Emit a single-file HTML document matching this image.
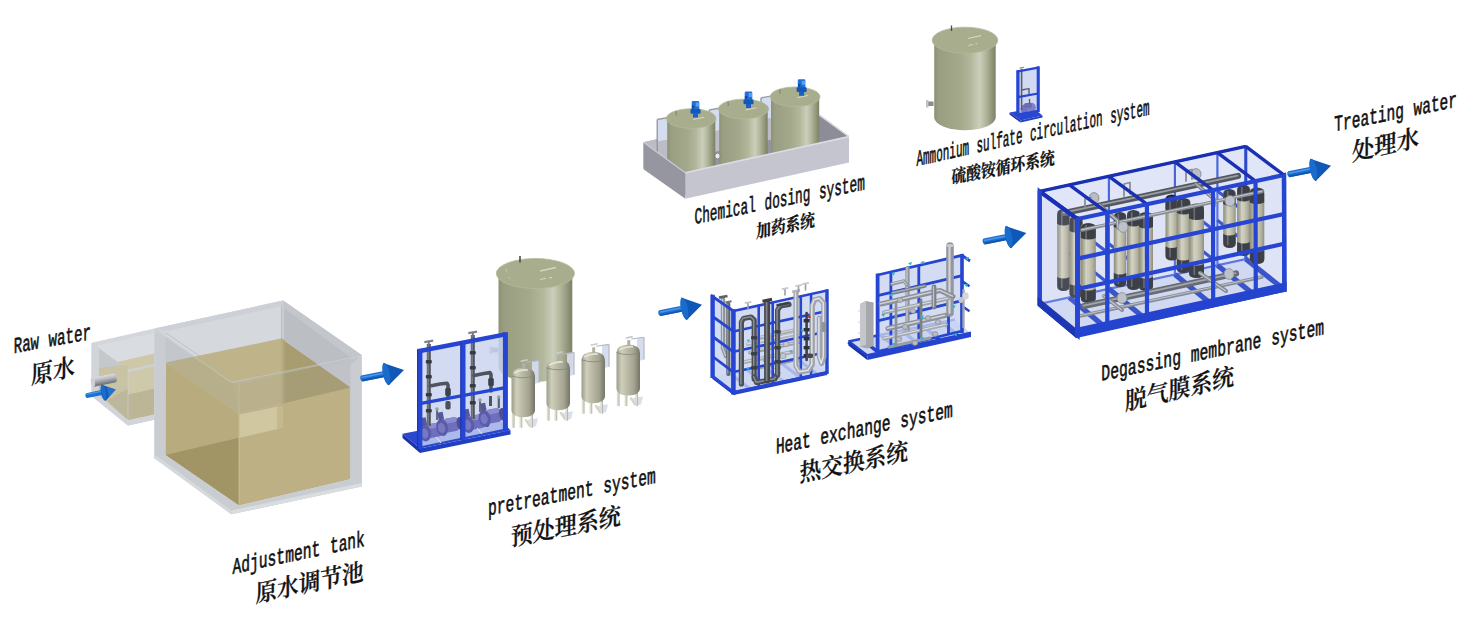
<!DOCTYPE html>
<html lang="zh"><head><meta charset="utf-8"><title>Process flow</title>
<style>
html,body{margin:0;padding:0;background:#fff;}
body{width:1466px;height:620px;overflow:hidden;font-family:"Liberation Serif","Noto Serif CJK SC",serif;}
svg{display:block;}
</style></head><body>
<svg width="1466" height="620" viewBox="0 0 1466 620">
<defs>
<linearGradient id="gp" x1="0" y1="0" x2="0" y2="1"><stop offset="0" stop-color="#dcdce0"/><stop offset="0.35" stop-color="#bdbdc4"/><stop offset="1" stop-color="#6c6c76"/></linearGradient>
<linearGradient id="tk" x1="0" y1="0" x2="1" y2="0"><stop offset="0" stop-color="#8c9174"/><stop offset="0.07" stop-color="#999e82"/><stop offset="0.42" stop-color="#a4a98c"/><stop offset="0.6" stop-color="#b3b89c"/><stop offset="0.74" stop-color="#cbcfbb"/><stop offset="0.86" stop-color="#abb094"/><stop offset="1" stop-color="#7c8166"/></linearGradient>
<linearGradient id="vs" x1="0" y1="0" x2="1" y2="0"><stop offset="0" stop-color="#9c9c8b"/><stop offset="0.22" stop-color="#cfcfbc"/><stop offset="0.42" stop-color="#bdbda9"/><stop offset="0.75" stop-color="#a3a390"/><stop offset="1" stop-color="#757568"/></linearGradient>
<linearGradient id="mem" x1="0" y1="0" x2="1" y2="0"><stop offset="0" stop-color="#7f7e68"/><stop offset="0.28" stop-color="#b9b79e"/><stop offset="0.48" stop-color="#cdcbb3"/><stop offset="0.8" stop-color="#aba990"/><stop offset="1" stop-color="#83816b"/></linearGradient>
</defs>
<rect width="1466" height="620" fill="#ffffff"/>
<!-- adjustment tank -->
<polygon points="91.6,342.8 154.5,328.5 154.5,363.8 128.0,369.8" fill="#d3d6db"/>
<polygon points="97.0,345.8 154.5,332.8 154.5,356.0 97.0,369.5" fill="#d9dce1"/>
<polygon points="104.0,365.0 154.5,353.5 154.5,366.0 128.0,372.0 104.0,372.0" fill="#cfc8a8"/>
<polygon points="91.6,342.8 128.0,369.8 128.0,425.5 91.6,396.0" fill="#c5c8cb"/>
<polygon points="99.0,367.8 128.0,364.8 128.0,420.0 99.0,395.0" fill="#c8c3a5"/>
<polygon points="106.8,400.5 128.0,388.8 128.0,420.0" fill="#bdb89b"/>
<polygon points="128.0,369.8 154.5,363.8 154.5,419.8 128.0,425.5" fill="#cdd0d3"/>
<polygon points="128.0,372.2 154.5,366.2 154.5,388.5 128.0,394.5" fill="#cfc9ab"/>
<polygon points="128.0,394.5 154.5,388.5 154.5,414.5 128.0,420.3" fill="#bcb696"/>
<line x1="128.0" y1="370.5" x2="128.0" y2="425.0" stroke="#d6d8dc" stroke-width="1.0" stroke-linecap="butt" stroke-opacity="0.5"/>
<polygon points="91.6,396.0 128.0,425.5 154.5,419.8 154.5,414.5 128.0,420.3 99.0,395.0 99.0,348.3 91.6,342.8" fill="#d1d4d8"/>
<polygon points="154.5,328.5 283.0,300.5 283.0,429.0 154.5,458.2" fill="#d3d7dc"/>
<polygon points="283.0,300.5 361.6,355.0 361.6,486.6 283.0,429.0" fill="#bec1c6"/>
<polygon points="154.5,328.5 283.0,300.5 281.0,306.3 165.5,331.6" fill="#cdd1d7"/>
<polygon points="283.0,300.5 361.6,355.0 350.6,357.4 281.0,306.3" fill="#c3c6cb"/>
<polygon points="165.5,331.6 281.0,306.3 281.0,345.0 165.5,368.0" fill="#d5d9de"/>
<polygon points="281.0,306.3 350.6,357.4 350.6,392.0 281.0,345.0" fill="#bbbec3"/>
<line x1="283.0" y1="301.0" x2="283.0" y2="340.0" stroke="#c9ccd1" stroke-width="2.2" stroke-linecap="butt"/>
<polygon points="154.5,328.5 231.5,381.8 231.3,514.2 154.5,458.2" fill="#c6c9cd" fill-opacity="0.55"/>
<polygon points="231.5,381.8 361.6,355.0 361.6,486.6 231.3,514.2" fill="#cdd0d4" fill-opacity="0.55"/>
<polygon points="166.0,362.5 280.7,338.6 350.4,387.6 239.2,413.7" fill="#bfb389"/>
<polygon points="280.7,338.6 350.4,387.6 283.0,416.0 283.0,339.0" fill="#a89d70"/>
<polygon points="281.0,338.7 285.0,340.0 285.0,418.0 281.0,419.0" fill="#b3a87c" fill-opacity="0.6"/>
<polygon points="166.0,362.5 239.2,413.7 239.0,505.5 165.5,455.0" fill="#b8ac7e"/>
<polygon points="165.5,455.0 239.0,437.7 239.0,505.5" fill="#a19465"/>
<polygon points="239.2,413.7 350.4,387.6 350.3,479.3 239.0,505.5" fill="#bcb084"/>
<polygon points="239.2,414.5 277.0,406.6 277.0,429.2 239.2,437.9" fill="#d0c6a0"/>
<polygon points="277.0,406.6 283.0,405.4 283.0,428.0 277.0,429.2" fill="#c4b98f"/>
<line x1="239.1" y1="414.0" x2="239.1" y2="505.0" stroke="#c9be96" stroke-width="1.0" stroke-linecap="butt"/>
<polygon points="154.5,328.5 231.5,381.8 239.2,413.7 166.0,362.5 165.5,362.0" fill="#8f9398" fill-opacity="0.16"/>
<polygon points="231.5,381.8 361.6,355.0 350.4,387.6 239.2,413.7" fill="#9a9ea3" fill-opacity="0.12"/>
<line x1="165.5" y1="332.6" x2="239.0" y2="383.2" stroke="#aeb1b3" stroke-width="1.0" stroke-linecap="butt" stroke-opacity="0.6"/>
<line x1="239.0" y1="383.2" x2="350.6" y2="358.4" stroke="#b4b7b9" stroke-width="1.0" stroke-linecap="butt" stroke-opacity="0.6"/>
<line x1="239.0" y1="383.0" x2="239.0" y2="413.0" stroke="#c9cccf" stroke-width="1.0" stroke-linecap="butt" stroke-opacity="0.35"/>
<polygon points="154.5,328.5 165.5,336.2 165.5,455.0 239.0,505.5 350.3,479.3 350.4,365.0 361.6,355.0 361.6,486.6 231.3,514.2 154.5,458.2" fill="#c9cdd1"/>
<polygon points="154.5,328.5 231.5,381.8 231.5,383.2 154.5,329.9" fill="#d2d5d9" fill-opacity="0.4"/>
<polygon points="231.5,381.8 361.6,355.0 361.6,356.4 231.5,383.2" fill="#d6d9dc" fill-opacity="0.4"/>
<polygon points="154.5,458.2 231.3,514.2 231.3,510.5 154.5,454.5" fill="#d6d9dc"/>
<polygon points="231.3,514.2 361.6,486.6 361.6,483.0 231.3,510.5" fill="#dadde0"/>
<g transform="rotate(-11 105 380)"><rect x="91.5" y="375.4" width="25" height="9.0" rx="2.5" fill="url(#gp)"/><ellipse cx="92.7" cy="379.9" rx="2" ry="4.5" fill="#cfcfd4"/></g>
<path d="M86.2,393.2 L103.5,389.6 L104.5,394.4 L87.2,398 A1.6,2.5 -11 0 1 86.2,393.2 Z" fill="#1c6fd0"/>
<line x1="86.5" y1="394.3" x2="103.6" y2="390.8" stroke="#4a97ea" stroke-width="1.3" stroke-linecap="butt"/>
<path d="M101.6,384.8 L115.8,389.6 L106.2,400.2 A2.6,7.8 -11 0 1 101.6,384.8 Z" fill="#1058b8"/>
<path d="M106.5,386.5 L115.8,389.6 L108.8,397.3 Z" fill="#3a86dc" fill-opacity="0.55"/>
<ellipse cx="103.6" cy="392.4" rx="2.6" ry="7.7" transform="rotate(-11 103.6 392.4)" fill="#1a6ccc"/>
<!-- arrows -->
<g>
<path d="M361.2,375.5 L386.3,370.5 L387.4,376.4 L362.4,381.4 A2,3.1 -11 0 1 361.2,375.5 Z" fill="#1c6fd0"/>
<line x1="361.6" y1="377.5" x2="386.6" y2="372.5" stroke="#4a97ea" stroke-width="1.6" stroke-linecap="butt"/>
<line x1="362.3" y1="380.6" x2="387.3" y2="375.6" stroke="#0f55b0" stroke-width="1.6" stroke-linecap="butt"/>
<path d="M383.2,362.9 L404.0,370.0 L390.0,384.0 A3.2,11.0 -11 0 1 383.2,362.9 Z" fill="#1058b8"/>
<ellipse cx="386.3" cy="373.4" rx="3.4" ry="10.7" transform="rotate(-11 386.8 373.4)" fill="#1a6ccc"/>
</g>
<g>
<path d="M659.2,310.2 L684.3,305.2 L685.4,311.1 L660.4,316.1 A2,3.1 -11 0 1 659.2,310.2 Z" fill="#1c6fd0"/>
<line x1="659.6" y1="312.2" x2="684.6" y2="307.2" stroke="#4a97ea" stroke-width="1.6" stroke-linecap="butt"/>
<line x1="660.3" y1="315.3" x2="685.3" y2="310.3" stroke="#0f55b0" stroke-width="1.6" stroke-linecap="butt"/>
<path d="M681.2,297.6 L702.0,304.7 L688.0,318.7 A3.2,11.0 -11 0 1 681.2,297.6 Z" fill="#1058b8"/>
<ellipse cx="684.3" cy="308.1" rx="3.4" ry="10.7" transform="rotate(-11 684.8 308.1)" fill="#1a6ccc"/>
</g>
<g>
<path d="M983.5,238.5 L1008.6,233.5 L1009.7,239.4 L984.7,244.4 A2,3.1 -11 0 1 983.5,238.5 Z" fill="#1c6fd0"/>
<line x1="983.9" y1="240.5" x2="1008.9" y2="235.5" stroke="#4a97ea" stroke-width="1.6" stroke-linecap="butt"/>
<line x1="984.6" y1="243.6" x2="1009.6" y2="238.6" stroke="#0f55b0" stroke-width="1.6" stroke-linecap="butt"/>
<path d="M1005.5,225.9 L1026.3,233.0 L1012.3,247.0 A3.2,11.0 -11 0 1 1005.5,225.9 Z" fill="#1058b8"/>
<ellipse cx="1008.6" cy="236.4" rx="3.4" ry="10.7" transform="rotate(-11 1009.1 236.4)" fill="#1a6ccc"/>
</g>
<g>
<path d="M1288.2,171.3 L1313.3,166.3 L1314.4,172.2 L1289.4,177.2 A2,3.1 -11 0 1 1288.2,171.3 Z" fill="#1c6fd0"/>
<line x1="1288.6" y1="173.3" x2="1313.6" y2="168.3" stroke="#4a97ea" stroke-width="1.6" stroke-linecap="butt"/>
<line x1="1289.3" y1="176.4" x2="1314.3" y2="171.4" stroke="#0f55b0" stroke-width="1.6" stroke-linecap="butt"/>
<path d="M1310.2,158.7 L1331.0,165.8 L1317.0,179.8 A3.2,11.0 -11 0 1 1310.2,158.7 Z" fill="#1058b8"/>
<ellipse cx="1313.3" cy="169.2" rx="3.4" ry="10.7" transform="rotate(-11 1313.8 169.2)" fill="#1a6ccc"/>
</g>
<!-- labels -->
<g transform="matrix(1,-0.1816,-0.000,1,13.4,353.2)" font-family='"Liberation Mono", "Noto Serif CJK SC", monospace' font-size="22.5" fill="#111" stroke="#111" stroke-width="0.6">
<text x="0.3" y="0" textLength="25.3" lengthAdjust="spacingAndGlyphs">Raw</text>
<text x="35.1" y="0" textLength="42.6" lengthAdjust="spacingAndGlyphs">water</text>
</g>
<g transform="matrix(1,-0.2055,-0.000,1,31.0,384.0)" font-family='"Liberation Serif", "Noto Serif CJK SC", serif' font-size="24.5" font-weight="600" fill="#111" stroke="#111" stroke-width="0.3">
<text x="0" y="0" textLength="43.8" lengthAdjust="spacingAndGlyphs">原水</text>
</g>
<g transform="matrix(1,-0.2119,-0.000,1,232.1,574.0)" font-family='"Liberation Mono", "Noto Serif CJK SC", monospace' font-size="22.5" fill="#111" stroke="#111" stroke-width="0.6">
<text x="0.3" y="0" textLength="87.9" lengthAdjust="spacingAndGlyphs">Adjustment</text>
<text x="97.9" y="0" textLength="34.7" lengthAdjust="spacingAndGlyphs">tank</text>
</g>
<g transform="matrix(1,-0.2083,-0.000,1,255.5,602.5)" font-family='"Liberation Serif", "Noto Serif CJK SC", serif' font-size="24.5" font-weight="600" fill="#111" stroke="#111" stroke-width="0.3">
<text x="0" y="0" textLength="108.0" lengthAdjust="spacingAndGlyphs">原水调节池</text>
</g>
<g transform="matrix(1,-0.1947,-0.000,1,487.7,515.6)" font-family='"Liberation Mono", "Noto Serif CJK SC", monospace' font-size="22.5" fill="#111" stroke="#111" stroke-width="0.6">
<text x="0.3" y="0" textLength="105.6" lengthAdjust="spacingAndGlyphs">pretreatment</text>
<text x="115.6" y="0" textLength="52.4" lengthAdjust="spacingAndGlyphs">system</text>
</g>
<g transform="matrix(1,-0.2000,-0.000,1,510.8,546.0)" font-family='"Liberation Serif", "Noto Serif CJK SC", serif' font-size="24.5" font-weight="600" fill="#111" stroke="#111" stroke-width="0.3">
<text x="0" y="0" textLength="110.0" lengthAdjust="spacingAndGlyphs">预处理系统</text>
</g>
<g transform="matrix(1,-0.2099,-0.000,1,775.6,453.9)" font-family='"Liberation Mono", "Noto Serif CJK SC", monospace' font-size="22.5" fill="#111" stroke="#111" stroke-width="0.6">
<text x="0.3" y="0" textLength="34.7" lengthAdjust="spacingAndGlyphs">Heat</text>
<text x="44.7" y="0" textLength="70.3" lengthAdjust="spacingAndGlyphs">exchange</text>
<text x="124.7" y="0" textLength="52.5" lengthAdjust="spacingAndGlyphs">system</text>
</g>
<g transform="matrix(1,-0.2070,-0.000,1,799.4,482.0)" font-family='"Liberation Serif", "Noto Serif CJK SC", serif' font-size="24.5" font-weight="600" fill="#111" stroke="#111" stroke-width="0.3">
<text x="0" y="0" textLength="108.7" lengthAdjust="spacingAndGlyphs">热交换系统</text>
</g>
<g transform="matrix(1,-0.2022,-0.000,1,694.2,224.0)" font-family='"Liberation Mono", "Noto Serif CJK SC", monospace' font-size="22.5" fill="#111" stroke="#111" stroke-width="0.6">
<text x="0.3" y="0" textLength="61.4" lengthAdjust="spacingAndGlyphs">Chemical</text>
<text x="70.3" y="0" textLength="45.9" lengthAdjust="spacingAndGlyphs">dosing</text>
<text x="124.7" y="0" textLength="45.9" lengthAdjust="spacingAndGlyphs">system</text>
</g>
<g transform="matrix(1,-0.2051,-0.000,1,756.3,238.0)" font-family='"Liberation Serif", "Noto Serif CJK SC", serif' font-size="18" font-weight="700" fill="#111" stroke="#111" stroke-width="0.3">
<text x="0" y="0" textLength="58.5" lengthAdjust="spacingAndGlyphs">加药系统</text>
</g>
<g transform="matrix(1,-0.2206,-0.000,1,916.1,166.1)" font-family='"Liberation Mono", "Noto Serif CJK SC", monospace' font-size="22.5" fill="#111" stroke="#111" stroke-width="0.6">
<text x="0.3" y="0" textLength="52.7" lengthAdjust="spacingAndGlyphs">Ammonium</text>
<text x="60.4" y="0" textLength="46.0" lengthAdjust="spacingAndGlyphs">sulfate</text>
<text x="113.9" y="0" textLength="72.7" lengthAdjust="spacingAndGlyphs">circulation</text>
<text x="194.1" y="0" textLength="39.3" lengthAdjust="spacingAndGlyphs">system</text>
</g>
<g transform="matrix(1,-0.1890,-0.000,1,951.6,183.5)" font-family='"Liberation Serif", "Noto Serif CJK SC", serif' font-size="18" font-weight="700" fill="#111" stroke="#111" stroke-width="0.3">
<text x="0" y="0" textLength="103.2" lengthAdjust="spacingAndGlyphs">硫酸铵循环系统</text>
</g>
<g transform="matrix(1,-0.2098,-0.000,1,1101.0,380.9)" font-family='"Liberation Mono", "Noto Serif CJK SC", monospace' font-size="22.5" fill="#111" stroke="#111" stroke-width="0.6">
<text x="0.3" y="0" textLength="79.7" lengthAdjust="spacingAndGlyphs">Degassing</text>
<text x="89.7" y="0" textLength="70.7" lengthAdjust="spacingAndGlyphs">membrane</text>
<text x="170.2" y="0" textLength="52.8" lengthAdjust="spacingAndGlyphs">system</text>
</g>
<g transform="matrix(1,-0.2385,-0.000,1,1125.0,410.5)" font-family='"Liberation Serif", "Noto Serif CJK SC", serif' font-size="24.5" font-weight="600" fill="#111" stroke="#111" stroke-width="0.3">
<text x="0" y="0" textLength="109.0" lengthAdjust="spacingAndGlyphs">脱气膜系统</text>
</g>
<g transform="matrix(1,-0.2018,-0.000,1,1334.0,131.5)" font-family='"Liberation Mono", "Noto Serif CJK SC", monospace' font-size="22.5" fill="#111" stroke="#111" stroke-width="0.6">
<text x="0.3" y="0" textLength="69.7" lengthAdjust="spacingAndGlyphs">Treating</text>
<text x="79.6" y="0" textLength="43.3" lengthAdjust="spacingAndGlyphs">water</text>
</g>
<g transform="matrix(1,-0.2254,-0.000,1,1352.0,161.0)" font-family='"Liberation Serif", "Noto Serif CJK SC", serif' font-size="24.5" font-weight="600" fill="#111" stroke="#111" stroke-width="0.3">
<text x="0" y="0" textLength="67.0" lengthAdjust="spacingAndGlyphs">处理水</text>
</g>
<!-- pretreatment -->
<path d="M498.5,273.5 L498.5,367.0 A36.9,15.0 0 0 0 572.3,367.0 L572.3,273.5 Z" fill="url(#tk)"/>
<ellipse cx="535.4" cy="273.5" rx="39.1" ry="15.0" fill="#a8ad8e" stroke="#b4b99b" stroke-width="0.8"/>
<line x1="540.0" y1="271.0" x2="556.0" y2="267.5" stroke="#d3d7c2" stroke-width="1.3" stroke-linecap="butt"/>
<line x1="540.0" y1="279.5" x2="546.0" y2="278.2" stroke="#d3d7c2" stroke-width="1.1" stroke-linecap="butt"/>
<line x1="549.0" y1="278.0" x2="552.0" y2="277.4" stroke="#d3d7c2" stroke-width="1.1" stroke-linecap="butt"/>
<line x1="506.0" y1="268.0" x2="506.5" y2="272.0" stroke="#c3c7b0" stroke-width="0.8" stroke-linecap="butt"/>
<line x1="508.0" y1="277.0" x2="511.0" y2="279.0" stroke="#c3c7b0" stroke-width="0.8" stroke-linecap="butt"/>
<line x1="520.0" y1="256.0" x2="520.0" y2="262.5" stroke="#4a4a4a" stroke-width="1.6" stroke-linecap="butt"/>
<rect x="491" y="347.5" width="7" height="5" fill="#8a8d92"/><rect x="489.5" y="346" width="2.5" height="8" fill="#b5b8bd"/>
<polygon points="402.5,433.8 496.0,415.5 510.5,430.2 420.0,448.5" fill="#2a48cf"/>
<polygon points="402.5,433.8 420.0,448.5 420.0,453.0 402.5,438.0" fill="#1b33a8"/>
<polygon points="420.0,448.5 510.5,430.2 510.5,434.5 420.0,453.0" fill="#2040c4"/>
<polygon points="419.8,351.0 505.4,334.4 505.4,428.5 419.8,446.5" fill="#c9d3f0" fill-opacity="0.82"/>
<g transform="translate(428.0,432.0) rotate(-11)">
<rect x="-2" y="-7.5" width="17" height="14" rx="5" fill="#6e6fbc"/>
<rect x="0" y="-7.5" width="13" height="5" rx="2.5" fill="#8a8bd0"/>
<ellipse cx="-3" cy="0.5" rx="6" ry="8.4" fill="#5a5baa"/>
<ellipse cx="-3.6" cy="0.8" rx="3.6" ry="5.2" fill="#7778c2"/>
<ellipse cx="15.5" cy="0" rx="3.4" ry="6.6" fill="#4c4d98"/>
<rect x="-5" y="-15" width="5.5" height="8" fill="#55589a"/>
</g>
<g transform="translate(445.0,426.5) rotate(-11)">
<rect x="-2" y="-7.5" width="17" height="14" rx="5" fill="#6e6fbc"/>
<rect x="0" y="-7.5" width="13" height="5" rx="2.5" fill="#8a8bd0"/>
<ellipse cx="-3" cy="0.5" rx="6" ry="8.4" fill="#5a5baa"/>
<ellipse cx="-3.6" cy="0.8" rx="3.6" ry="5.2" fill="#7778c2"/>
<ellipse cx="15.5" cy="0" rx="3.4" ry="6.6" fill="#4c4d98"/>
<rect x="-5" y="-15" width="5.5" height="8" fill="#55589a"/>
</g>
<g transform="translate(471.0,423.5) rotate(-11)">
<rect x="-2" y="-7.5" width="17" height="14" rx="5" fill="#6e6fbc"/>
<rect x="0" y="-7.5" width="13" height="5" rx="2.5" fill="#8a8bd0"/>
<ellipse cx="-3" cy="0.5" rx="6" ry="8.4" fill="#5a5baa"/>
<ellipse cx="-3.6" cy="0.8" rx="3.6" ry="5.2" fill="#7778c2"/>
<ellipse cx="15.5" cy="0" rx="3.4" ry="6.6" fill="#4c4d98"/>
<rect x="-5" y="-15" width="5.5" height="8" fill="#55589a"/>
</g>
<g transform="translate(487.5,417.5) rotate(-11)">
<rect x="-2" y="-7.5" width="17" height="14" rx="5" fill="#6e6fbc"/>
<rect x="0" y="-7.5" width="13" height="5" rx="2.5" fill="#8a8bd0"/>
<ellipse cx="-3" cy="0.5" rx="6" ry="8.4" fill="#5a5baa"/>
<ellipse cx="-3.6" cy="0.8" rx="3.6" ry="5.2" fill="#7778c2"/>
<ellipse cx="15.5" cy="0" rx="3.4" ry="6.6" fill="#4c4d98"/>
<rect x="-5" y="-15" width="5.5" height="8" fill="#55589a"/>
</g>
<line x1="436.0" y1="437.0" x2="441.0" y2="443.0" stroke="#e8e8f4" stroke-width="1" stroke-linecap="butt"/>
<line x1="477.0" y1="428.0" x2="482.0" y2="434.0" stroke="#e8e8f4" stroke-width="1" stroke-linecap="butt"/>
<line x1="428.8" y1="344.0" x2="428.8" y2="426.0" stroke="#4f545c" stroke-width="4.0" stroke-linecap="butt"/>
<line x1="428.1" y1="344.0" x2="428.1" y2="426.0" stroke="#888d96" stroke-width="1.1" stroke-linecap="butt"/>
<line x1="424.3" y1="342.2" x2="433.2" y2="340.6" stroke="#80858d" stroke-width="2.2" stroke-linecap="butt"/>
<line x1="428.8" y1="341.5" x2="428.8" y2="346.0" stroke="#70757d" stroke-width="1.8" stroke-linecap="butt"/>
<line x1="472.8" y1="335.0" x2="472.8" y2="419.0" stroke="#4f545c" stroke-width="4.0" stroke-linecap="butt"/>
<line x1="472.1" y1="335.0" x2="472.1" y2="419.0" stroke="#888d96" stroke-width="1.1" stroke-linecap="butt"/>
<line x1="468.3" y1="333.2" x2="477.2" y2="331.6" stroke="#80858d" stroke-width="2.2" stroke-linecap="butt"/>
<line x1="472.8" y1="332.5" x2="472.8" y2="337.0" stroke="#70757d" stroke-width="1.8" stroke-linecap="butt"/>
<rect x="425.8" y="360" width="6" height="3.4" rx="1" fill="#363a42"/>
<rect x="425.8" y="375" width="6" height="3.4" rx="1" fill="#363a42"/>
<rect x="425.8" y="393" width="6" height="3.4" rx="1" fill="#363a42"/>
<rect x="425.8" y="409" width="6" height="3.4" rx="1" fill="#363a42"/>
<rect x="469.8" y="351" width="6" height="3.4" rx="1" fill="#363a42"/>
<rect x="469.8" y="366" width="6" height="3.4" rx="1" fill="#363a42"/>
<rect x="469.8" y="384" width="6" height="3.4" rx="1" fill="#363a42"/>
<rect x="469.8" y="401" width="6" height="3.4" rx="1" fill="#363a42"/>
<polyline points="430.0,386.0 440.0,384.0 447.0,383.2 448.0,385.0 448.0,396.0" fill="none" stroke="#4f545c" stroke-width="3.6" stroke-linecap="round" stroke-linejoin="round"/>
<rect x="445.2" y="388" width="5.6" height="8" rx="1.5" fill="#3d4149"/>
<rect x="445.4" y="401" width="5.2" height="8.5" rx="1.8" fill="#4a4e56"/>
<polyline points="474.0,375.5 484.0,373.5 490.0,372.6 491.0,374.5 491.0,391.0" fill="none" stroke="#4f545c" stroke-width="3.6" stroke-linecap="round" stroke-linejoin="round"/>
<rect x="488.2" y="378" width="5.6" height="8" rx="1.5" fill="#3d4149"/>
<line x1="437.0" y1="410.0" x2="437.0" y2="420.0" stroke="#5a5f68" stroke-width="1.8" stroke-linecap="butt"/>
<circle cx="437" cy="409" r="1.8" fill="#9a9ea6"/>
<line x1="480.0" y1="401.0" x2="480.0" y2="412.0" stroke="#5a5f68" stroke-width="1.8" stroke-linecap="butt"/>
<circle cx="480" cy="400" r="1.8" fill="#9a9ea6"/>
<line x1="498.8" y1="398.0" x2="498.8" y2="408.0" stroke="#5a5f68" stroke-width="2.2" stroke-linecap="butt"/>
<circle cx="498.8" cy="397" r="1.8" fill="#9a9ea6"/>
<line x1="490.5" y1="396.0" x2="490.5" y2="406.0" stroke="#4f545c" stroke-width="3.0" stroke-linecap="butt"/>
<line x1="419.8" y1="351.0" x2="505.4" y2="334.4" stroke="#2545d2" stroke-width="4.4" stroke-linecap="butt"/>
<line x1="419.8" y1="403.6" x2="505.4" y2="387.7" stroke="#2545d2" stroke-width="3.4" stroke-linecap="butt"/>
<line x1="419.8" y1="348.8" x2="419.8" y2="449.0" stroke="#2545d2" stroke-width="5.2" stroke-linecap="butt"/>
<line x1="505.4" y1="332.2" x2="505.4" y2="431.5" stroke="#2545d2" stroke-width="5.0" stroke-linecap="butt"/>
<line x1="463.0" y1="341.0" x2="463.0" y2="440.0" stroke="#2545d2" stroke-width="5.0" stroke-linecap="butt"/>
<line x1="417.6" y1="349.5" x2="417.6" y2="449.0" stroke="#1a33b0" stroke-width="1.0" stroke-linecap="butt"/>
<line x1="460.8" y1="342.0" x2="460.8" y2="440.0" stroke="#1a33b0" stroke-width="1.0" stroke-linecap="butt"/>
<polygon points="532.0,361.8 539.0,360.4 539.0,382.8 532.0,384.8" fill="#d3dbee" fill-opacity="0.95"/>
<line x1="539.0" y1="360.4" x2="539.0" y2="382.8" stroke="#b4b7bd" stroke-width="1.2" stroke-linecap="butt"/>
<line x1="526.2" y1="362.2" x2="539.0" y2="360.4" stroke="#b4b7bd" stroke-width="1.1" stroke-linecap="butt"/>
<polygon points="525.2,420.3 538.0,418.3 536.0,426.3 529.2,427.3" fill="#d6dcec" fill-opacity="0.9"/>
<line x1="513.0" y1="408.3" x2="513.0" y2="427.8" stroke="#deded0" stroke-width="2.4" stroke-linecap="butt"/>
<line x1="514.1" y1="408.3" x2="514.1" y2="427.8" stroke="#a9a99b" stroke-width="0.8" stroke-linecap="butt"/>
<line x1="520.7" y1="408.3" x2="520.7" y2="427.8" stroke="#deded0" stroke-width="2.4" stroke-linecap="butt"/>
<line x1="521.8" y1="408.3" x2="521.8" y2="427.8" stroke="#a9a99b" stroke-width="0.8" stroke-linecap="butt"/>
<line x1="531.5" y1="408.3" x2="531.5" y2="427.8" stroke="#deded0" stroke-width="2.4" stroke-linecap="butt"/>
<line x1="532.6" y1="408.3" x2="532.6" y2="427.8" stroke="#a9a99b" stroke-width="0.8" stroke-linecap="butt"/>
<line x1="525.2" y1="419.3" x2="530.2" y2="426.3" stroke="#d4d4c6" stroke-width="2.0" stroke-linecap="butt"/>
<path d="M511.5,375.8 Q511.5,368.3 523.2,367.8 Q535.0,368.3 535.0,375.8 L535.0,410.3 Q535.0,416.8 523.2,417.3 Q511.5,416.8 511.5,410.3 Z" fill="url(#vs)"/>
<path d="M511.5,375.8 Q523.2,379.8 535.0,375.8" fill="none" stroke="#85857a" stroke-width="0.8"/>
<path d="M514.5,372.8 Q521.2,369.3 527.2,370.0" fill="none" stroke="#e6e6d8" stroke-width="1.6" stroke-linecap="round"/>
<line x1="523.7" y1="363.3" x2="523.7" y2="368.8" stroke="#aeb1a6" stroke-width="3" stroke-linecap="butt"/>
<line x1="520.7" y1="361.3" x2="527.7" y2="359.8" stroke="#c9ccd0" stroke-width="1.6" stroke-linecap="butt"/>
<polygon points="567.0,353.8 574.0,352.4 574.0,374.8 567.0,376.8" fill="#d3dbee" fill-opacity="0.95"/>
<line x1="574.0" y1="352.4" x2="574.0" y2="374.8" stroke="#b4b7bd" stroke-width="1.2" stroke-linecap="butt"/>
<line x1="561.2" y1="354.2" x2="574.0" y2="352.4" stroke="#b4b7bd" stroke-width="1.1" stroke-linecap="butt"/>
<polygon points="560.2,413.2 573.0,411.2 571.0,419.2 564.2,420.2" fill="#d6dcec" fill-opacity="0.9"/>
<line x1="548.0" y1="401.2" x2="548.0" y2="420.7" stroke="#deded0" stroke-width="2.4" stroke-linecap="butt"/>
<line x1="549.1" y1="401.2" x2="549.1" y2="420.7" stroke="#a9a99b" stroke-width="0.8" stroke-linecap="butt"/>
<line x1="555.7" y1="401.2" x2="555.7" y2="420.7" stroke="#deded0" stroke-width="2.4" stroke-linecap="butt"/>
<line x1="556.8" y1="401.2" x2="556.8" y2="420.7" stroke="#a9a99b" stroke-width="0.8" stroke-linecap="butt"/>
<line x1="566.5" y1="401.2" x2="566.5" y2="420.7" stroke="#deded0" stroke-width="2.4" stroke-linecap="butt"/>
<line x1="567.6" y1="401.2" x2="567.6" y2="420.7" stroke="#a9a99b" stroke-width="0.8" stroke-linecap="butt"/>
<line x1="560.2" y1="412.2" x2="565.2" y2="419.2" stroke="#d4d4c6" stroke-width="2.0" stroke-linecap="butt"/>
<path d="M546.5,367.8 Q546.5,360.3 558.2,359.8 Q570.0,360.3 570.0,367.8 L570.0,403.2 Q570.0,409.7 558.2,410.2 Q546.5,409.7 546.5,403.2 Z" fill="url(#vs)"/>
<path d="M546.5,367.8 Q558.2,371.8 570.0,367.8" fill="none" stroke="#85857a" stroke-width="0.8"/>
<path d="M549.5,364.8 Q556.2,361.3 562.2,362.0" fill="none" stroke="#e6e6d8" stroke-width="1.6" stroke-linecap="round"/>
<line x1="558.7" y1="355.3" x2="558.7" y2="360.8" stroke="#aeb1a6" stroke-width="3" stroke-linecap="butt"/>
<line x1="555.7" y1="353.3" x2="562.7" y2="351.8" stroke="#c9ccd0" stroke-width="1.6" stroke-linecap="butt"/>
<polygon points="602.0,345.8 609.0,344.4 609.0,366.8 602.0,368.8" fill="#d3dbee" fill-opacity="0.95"/>
<line x1="609.0" y1="344.4" x2="609.0" y2="366.8" stroke="#b4b7bd" stroke-width="1.2" stroke-linecap="butt"/>
<line x1="596.2" y1="346.2" x2="609.0" y2="344.4" stroke="#b4b7bd" stroke-width="1.1" stroke-linecap="butt"/>
<polygon points="595.2,406.2 608.0,404.2 606.0,412.2 599.2,413.2" fill="#d6dcec" fill-opacity="0.9"/>
<line x1="583.0" y1="394.2" x2="583.0" y2="413.7" stroke="#deded0" stroke-width="2.4" stroke-linecap="butt"/>
<line x1="584.1" y1="394.2" x2="584.1" y2="413.7" stroke="#a9a99b" stroke-width="0.8" stroke-linecap="butt"/>
<line x1="590.7" y1="394.2" x2="590.7" y2="413.7" stroke="#deded0" stroke-width="2.4" stroke-linecap="butt"/>
<line x1="591.8" y1="394.2" x2="591.8" y2="413.7" stroke="#a9a99b" stroke-width="0.8" stroke-linecap="butt"/>
<line x1="601.5" y1="394.2" x2="601.5" y2="413.7" stroke="#deded0" stroke-width="2.4" stroke-linecap="butt"/>
<line x1="602.6" y1="394.2" x2="602.6" y2="413.7" stroke="#a9a99b" stroke-width="0.8" stroke-linecap="butt"/>
<line x1="595.2" y1="405.2" x2="600.2" y2="412.2" stroke="#d4d4c6" stroke-width="2.0" stroke-linecap="butt"/>
<path d="M581.5,359.8 Q581.5,352.3 593.2,351.8 Q605.0,352.3 605.0,359.8 L605.0,396.2 Q605.0,402.7 593.2,403.2 Q581.5,402.7 581.5,396.2 Z" fill="url(#vs)"/>
<path d="M581.5,359.8 Q593.2,363.8 605.0,359.8" fill="none" stroke="#85857a" stroke-width="0.8"/>
<path d="M584.5,356.8 Q591.2,353.3 597.2,354.0" fill="none" stroke="#e6e6d8" stroke-width="1.6" stroke-linecap="round"/>
<line x1="593.7" y1="347.3" x2="593.7" y2="352.8" stroke="#aeb1a6" stroke-width="3" stroke-linecap="butt"/>
<line x1="590.7" y1="345.3" x2="597.7" y2="343.8" stroke="#c9ccd0" stroke-width="1.6" stroke-linecap="butt"/>
<polygon points="637.0,338.6 644.0,337.2 644.0,359.6 637.0,361.6" fill="#d3dbee" fill-opacity="0.95"/>
<line x1="644.0" y1="337.2" x2="644.0" y2="359.6" stroke="#b4b7bd" stroke-width="1.2" stroke-linecap="butt"/>
<line x1="631.3" y1="339.0" x2="644.0" y2="337.2" stroke="#b4b7bd" stroke-width="1.1" stroke-linecap="butt"/>
<polygon points="630.3,398.6 643.0,396.6 641.0,404.6 634.3,405.6" fill="#d6dcec" fill-opacity="0.9"/>
<line x1="618.0" y1="386.6" x2="618.0" y2="406.1" stroke="#deded0" stroke-width="2.4" stroke-linecap="butt"/>
<line x1="619.1" y1="386.6" x2="619.1" y2="406.1" stroke="#a9a99b" stroke-width="0.8" stroke-linecap="butt"/>
<line x1="625.8" y1="386.6" x2="625.8" y2="406.1" stroke="#deded0" stroke-width="2.4" stroke-linecap="butt"/>
<line x1="626.9" y1="386.6" x2="626.9" y2="406.1" stroke="#a9a99b" stroke-width="0.8" stroke-linecap="butt"/>
<line x1="636.5" y1="386.6" x2="636.5" y2="406.1" stroke="#deded0" stroke-width="2.4" stroke-linecap="butt"/>
<line x1="637.6" y1="386.6" x2="637.6" y2="406.1" stroke="#a9a99b" stroke-width="0.8" stroke-linecap="butt"/>
<line x1="630.3" y1="397.6" x2="635.3" y2="404.6" stroke="#d4d4c6" stroke-width="2.0" stroke-linecap="butt"/>
<path d="M616.5,352.6 Q616.5,345.1 628.3,344.6 Q640.0,345.1 640.0,352.6 L640.0,388.6 Q640.0,395.1 628.3,395.6 Q616.5,395.1 616.5,388.6 Z" fill="url(#vs)"/>
<path d="M616.5,352.6 Q628.3,356.6 640.0,352.6" fill="none" stroke="#85857a" stroke-width="0.8"/>
<path d="M619.5,349.6 Q626.3,346.1 632.3,346.8" fill="none" stroke="#e6e6d8" stroke-width="1.6" stroke-linecap="round"/>
<line x1="628.8" y1="340.1" x2="628.8" y2="345.6" stroke="#aeb1a6" stroke-width="3" stroke-linecap="butt"/>
<line x1="625.8" y1="338.1" x2="632.8" y2="336.6" stroke="#c9ccd0" stroke-width="1.6" stroke-linecap="butt"/>
<!-- chemical dosing -->
<polygon points="643.5,142.2 807.2,106.1 849.0,136.6 685.3,172.7" fill="#aaaab4"/>
<polygon points="643.5,142.2 807.2,106.1 807.2,132.1 643.5,168.2" fill="#bcbcc6"/>
<polygon points="807.2,106.1 849.0,136.6 849.0,162.6 807.2,132.1" fill="#8d8d97"/>
<polygon points="807.2,132.1 849.0,161.0 686.0,196.0 644.5,167.0" fill="#94949e"/>
<polygon points="761.0,97.8 772.0,95.8 772.0,117.8 761.0,119.8" fill="#d4dcf0"/>
<line x1="761.0" y1="97.8" x2="761.0" y2="119.8" stroke="#8f939b" stroke-width="1.3" stroke-linecap="butt"/>
<line x1="761.0" y1="97.8" x2="772.0" y2="95.8" stroke="#9a9ea6" stroke-width="1.3" stroke-linecap="butt"/>
<line x1="761.0" y1="118.8" x2="761.0" y2="138.0" stroke="#8f939b" stroke-width="1.3" stroke-linecap="butt"/>
<path d="M771.0,96.8 L771.0,150.0 A24.1,9.8 0 0 0 819.2,150.0 L819.2,96.8 Z" fill="url(#tk)"/>
<ellipse cx="795.1" cy="96.8" rx="24.9" ry="9.8" fill="#a8ad8e" stroke="#b4b99b" stroke-width="0.8"/>
<line x1="797.1" y1="97.8" x2="808.1" y2="95.5" stroke="#d3d8c5" stroke-width="1.1" stroke-linecap="butt"/>
<line x1="780.0" y1="89.3" x2="780.0" y2="93.8" stroke="#777" stroke-width="0.9" stroke-linecap="butt"/>
<rect x="797.8" y="79.3" width="7.6" height="10.5" rx="1.4" fill="#1f6fd6"/>
<rect x="801.8" y="80.8" width="3.2" height="4" fill="#5aa0f0"/>
<rect x="796.6" y="87.3" width="10" height="4.8" rx="1" fill="#1457b8"/>
<rect x="799.1" y="91.8" width="5" height="4" fill="#1a5fc4"/>
<rect x="798.0" y="83.8" width="2.4" height="3" fill="#0f4aa6"/>
<polygon points="709.2,110.0 720.2,108.0 720.2,130.0 709.2,132.0" fill="#d4dcf0"/>
<line x1="709.2" y1="110.0" x2="709.2" y2="132.0" stroke="#8f939b" stroke-width="1.3" stroke-linecap="butt"/>
<line x1="709.2" y1="110.0" x2="720.2" y2="108.0" stroke="#9a9ea6" stroke-width="1.3" stroke-linecap="butt"/>
<line x1="709.2" y1="131.0" x2="709.2" y2="150.0" stroke="#8f939b" stroke-width="1.3" stroke-linecap="butt"/>
<path d="M719.2,109.0 L719.2,162.0 A24.2,9.8 0 0 0 767.7,162.0 L767.7,109.0 Z" fill="url(#tk)"/>
<ellipse cx="743.5" cy="109.0" rx="25.1" ry="9.8" fill="#a8ad8e" stroke="#b4b99b" stroke-width="0.8"/>
<line x1="745.5" y1="110.0" x2="756.5" y2="107.7" stroke="#d3d8c5" stroke-width="1.1" stroke-linecap="butt"/>
<line x1="728.2" y1="101.5" x2="728.2" y2="106.0" stroke="#777" stroke-width="0.9" stroke-linecap="butt"/>
<rect x="744.7" y="91.5" width="7.6" height="10.5" rx="1.4" fill="#1f6fd6"/>
<rect x="748.7" y="93.0" width="3.2" height="4" fill="#5aa0f0"/>
<rect x="743.5" y="99.5" width="10" height="4.8" rx="1" fill="#1457b8"/>
<rect x="746.0" y="104.0" width="5" height="4" fill="#1a5fc4"/>
<rect x="744.9" y="96.0" width="2.4" height="3" fill="#0f4aa6"/>
<polygon points="657.2,119.5 668.2,117.5 668.2,139.5 657.2,141.5" fill="#d4dcf0"/>
<line x1="657.2" y1="119.5" x2="657.2" y2="141.5" stroke="#8f939b" stroke-width="1.3" stroke-linecap="butt"/>
<line x1="657.2" y1="119.5" x2="668.2" y2="117.5" stroke="#9a9ea6" stroke-width="1.3" stroke-linecap="butt"/>
<line x1="657.2" y1="140.5" x2="657.2" y2="160.0" stroke="#8f939b" stroke-width="1.3" stroke-linecap="butt"/>
<path d="M667.2,118.5 L667.2,172.0 A24.0,9.8 0 0 0 715.3,172.0 L715.3,118.5 Z" fill="url(#tk)"/>
<ellipse cx="691.2" cy="118.5" rx="24.8" ry="9.8" fill="#a8ad8e" stroke="#b4b99b" stroke-width="0.8"/>
<line x1="693.2" y1="119.5" x2="704.2" y2="117.2" stroke="#d3d8c5" stroke-width="1.1" stroke-linecap="butt"/>
<line x1="676.2" y1="111.0" x2="676.2" y2="115.5" stroke="#777" stroke-width="0.9" stroke-linecap="butt"/>
<rect x="691.7" y="101.0" width="7.6" height="10.5" rx="1.4" fill="#1f6fd6"/>
<rect x="695.7" y="102.5" width="3.2" height="4" fill="#5aa0f0"/>
<rect x="690.5" y="109.0" width="10" height="4.8" rx="1" fill="#1457b8"/>
<rect x="693.0" y="113.5" width="5" height="4" fill="#1a5fc4"/>
<rect x="691.9" y="105.5" width="2.4" height="3" fill="#0f4aa6"/>
<ellipse cx="717.5" cy="156" rx="2.6" ry="3" fill="#e8e8ee" stroke="#777" stroke-width="0.8"/>
<polygon points="643.5,142.2 685.3,172.7 685.3,198.7 643.5,169.3" fill="#9696a0"/>
<polygon points="685.3,172.7 849.0,136.6 849.0,162.6 685.3,198.7" fill="#c5c5cf"/>
<line x1="643.5" y1="142.2" x2="685.3" y2="172.7" stroke="#c9c9d2" stroke-width="1.4" stroke-linecap="butt"/>
<line x1="685.3" y1="172.7" x2="849.0" y2="136.6" stroke="#dcdce4" stroke-width="1.6" stroke-linecap="butt"/>
<line x1="819.2" y1="114.9" x2="849.0" y2="136.6" stroke="#dadae2" stroke-width="1.4" stroke-linecap="butt"/>
<!-- ammonium sulfate -->
<path d="M934.2,40.2 L934.2,118.0 A30.8,13.0 0 0 0 995.7,118.0 L995.7,40.2 Z" fill="url(#tk)"/>
<ellipse cx="965.0" cy="40.2" rx="32.8" ry="13.0" fill="#a8ad8e" stroke="#b4b99b" stroke-width="0.8"/>
<line x1="968.0" y1="38.5" x2="981.0" y2="35.6" stroke="#d3d7c2" stroke-width="1.2" stroke-linecap="butt"/>
<line x1="968.5" y1="45.5" x2="973.0" y2="44.5" stroke="#d3d7c2" stroke-width="1" stroke-linecap="butt"/>
<line x1="975.5" y1="44.0" x2="977.5" y2="43.6" stroke="#d3d7c2" stroke-width="1" stroke-linecap="butt"/>
<line x1="951.5" y1="25.5" x2="951.5" y2="31.0" stroke="#4a4a4a" stroke-width="1.3" stroke-linecap="butt"/>
<rect x="927.5" y="101.5" width="6" height="4.5" fill="#8a8d92"/><rect x="926" y="100" width="2.4" height="7.5" fill="#c0c3c8"/>
<polygon points="1009.5,112.5 1034.0,108.5 1042.5,115.5 1020.5,120.5" fill="#2a48cf"/>
<polygon points="1009.5,112.5 1020.5,120.5 1020.5,122.5 1009.5,114.5" fill="#1b33a8"/>
<polygon points="1020.5,120.5 1042.5,115.5 1042.5,117.5 1020.5,122.5" fill="#2040c4"/>
<polygon points="1017.9,71.4 1038.2,67.6 1038.2,110.8 1017.9,114.4" fill="#c9d3f0" fill-opacity="0.85"/>
<ellipse cx="1024.5" cy="109" rx="4" ry="4.4" fill="#7475c4"/><ellipse cx="1031.5" cy="107.4" rx="4.4" ry="4.6" fill="#7f80cc"/><rect x="1024" y="103" width="8" height="5" rx="2" fill="#6a6bb6"/>
<line x1="1021.6" y1="69.0" x2="1021.6" y2="110.0" stroke="#5a5f68" stroke-width="1.6" stroke-linecap="butt"/>
<line x1="1019.6" y1="68.2" x2="1023.8" y2="67.4" stroke="#888" stroke-width="1.3" stroke-linecap="butt"/>
<polyline points="1021.6,90.0 1029.0,88.6 1029.0,95.0" fill="none" stroke="#5a5f68" stroke-width="1.4" stroke-linecap="round" stroke-linejoin="round"/>
<line x1="1029.5" y1="99.0" x2="1029.5" y2="104.0" stroke="#5a5f68" stroke-width="1.4" stroke-linecap="butt"/>
<line x1="1017.9" y1="97.2" x2="1038.2" y2="93.5" stroke="#2545d2" stroke-width="2.2" stroke-linecap="butt"/>
<polygon points="1017.9,71.4 1038.2,67.6 1038.2,110.8 1017.9,114.4" fill="none" stroke="#2545d2" stroke-width="2.2" stroke-linejoin="miter"/>
<line x1="1017.9" y1="70.2" x2="1017.9" y2="115.5" stroke="#2545d2" stroke-width="3.2" stroke-linecap="butt"/>
<line x1="1038.2" y1="66.4" x2="1038.2" y2="112.0" stroke="#2545d2" stroke-width="3.0" stroke-linecap="butt"/>
<!-- heat exchange skid 1 -->
<polygon points="712.6,376.5 806.0,356.5 827.0,372.5 733.4,392.5" fill="#dfe4f6" fill-opacity="0.9"/>
<line x1="729.4" y1="372.9" x2="750.2" y2="388.9" stroke="#2a48cf" stroke-width="3.2" stroke-linecap="butt"/>
<line x1="746.2" y1="369.3" x2="767.1" y2="385.3" stroke="#2a48cf" stroke-width="3.2" stroke-linecap="butt"/>
<line x1="763.0" y1="365.7" x2="783.9" y2="381.7" stroke="#2a48cf" stroke-width="3.2" stroke-linecap="butt"/>
<line x1="779.8" y1="362.1" x2="800.8" y2="378.1" stroke="#2a48cf" stroke-width="3.2" stroke-linecap="butt"/>
<line x1="796.7" y1="358.5" x2="817.6" y2="374.5" stroke="#2a48cf" stroke-width="3.2" stroke-linecap="butt"/>
<polygon points="712.6,296.5 733.4,311.0 733.4,392.5 712.6,376.5" fill="#c9d3f0" fill-opacity="0.8"/>
<polygon points="733.4,311.0 827.0,290.6 827.0,372.5 733.4,392.5" fill="#c9d3f0" fill-opacity="0.8"/>
<polyline points="723.0,299.5 723.0,348.0 726.0,356.0" fill="none" stroke="#8d9198" stroke-width="4.4" stroke-linecap="round" stroke-linejoin="round"/>
<polyline points="722.5,299.2 722.5,347.7 725.5,355.7" fill="none" stroke="#c9ccd1" stroke-width="1.2320000000000002" stroke-linecap="round" stroke-linejoin="round"/>
<line x1="719.0" y1="297.6" x2="727.5" y2="296.0" stroke="#5d6168" stroke-width="2.6" stroke-linecap="butt"/>
<polyline points="728.3,304.0 728.3,374.0" fill="none" stroke="#5d6168" stroke-width="4.0" stroke-linecap="round" stroke-linejoin="round"/>
<polyline points="727.8,303.7 727.8,373.7" fill="none" stroke="#9a9ea6" stroke-width="1.12" stroke-linecap="round" stroke-linejoin="round"/>
<line x1="725.5" y1="302.4" x2="731.5" y2="301.2" stroke="#6d7178" stroke-width="2.0" stroke-linecap="butt"/>
<polyline points="748.0,344.0 800.0,333.0" fill="none" stroke="#b4b7bd" stroke-width="4.2" stroke-linecap="round" stroke-linejoin="round"/>
<polyline points="747.5,343.7 799.5,332.7" fill="none" stroke="#e2e4e8" stroke-width="1.1760000000000002" stroke-linecap="round" stroke-linejoin="round"/>
<polyline points="750.0,352.5 800.0,342.0" fill="none" stroke="#9a9ea5" stroke-width="3.8" stroke-linecap="round" stroke-linejoin="round"/>
<polyline points="749.5,352.2 799.5,341.7" fill="none" stroke="#d0d2d7" stroke-width="1.064" stroke-linecap="round" stroke-linejoin="round"/>
<polyline points="760.0,337.5 795.0,330.0" fill="none" stroke="#a4a8af" stroke-width="3.4" stroke-linecap="round" stroke-linejoin="round"/>
<polyline points="759.5,337.2 794.5,329.7" fill="none" stroke="#dcdee2" stroke-width="0.9520000000000001" stroke-linecap="round" stroke-linejoin="round"/>
<polyline points="745.0,362.0 792.0,352.0" fill="none" stroke="#a9adb4" stroke-width="4.0" stroke-linecap="round" stroke-linejoin="round"/>
<polyline points="744.5,361.7 791.5,351.7" fill="none" stroke="#dcdee2" stroke-width="1.12" stroke-linecap="round" stroke-linejoin="round"/>
<polyline points="758.0,368.0 792.0,360.5" fill="none" stroke="#9a9ea5" stroke-width="3.4" stroke-linecap="round" stroke-linejoin="round"/>
<ellipse cx="762" cy="348" rx="3" ry="2.6" fill="#c4c7cc" stroke="#868a91" stroke-width="0.6"/>
<ellipse cx="772" cy="341" rx="3" ry="2.6" fill="#c4c7cc" stroke="#868a91" stroke-width="0.6"/>
<ellipse cx="786" cy="344" rx="3" ry="2.6" fill="#c4c7cc" stroke="#868a91" stroke-width="0.6"/>
<ellipse cx="766" cy="360" rx="3" ry="2.6" fill="#c4c7cc" stroke="#868a91" stroke-width="0.6"/>
<ellipse cx="783" cy="356" rx="3" ry="2.6" fill="#c4c7cc" stroke="#868a91" stroke-width="0.6"/>
<ellipse cx="774" cy="366" rx="3" ry="2.6" fill="#c4c7cc" stroke="#868a91" stroke-width="0.6"/>
<line x1="712.6" y1="316.5" x2="733.4" y2="331.4" stroke="#2545d2" stroke-width="2.8" stroke-linecap="butt"/>
<line x1="712.6" y1="336.5" x2="733.4" y2="351.8" stroke="#2545d2" stroke-width="2.8" stroke-linecap="butt"/>
<line x1="712.6" y1="356.5" x2="733.4" y2="372.1" stroke="#2545d2" stroke-width="2.8" stroke-linecap="butt"/>
<polygon points="712.6,296.5 733.4,311.0 733.4,392.5 712.6,376.5" fill="none" stroke="#2545d2" stroke-width="2.8" stroke-linejoin="miter"/>
<line x1="758.7" y1="305.5" x2="758.7" y2="387.1" stroke="#2545d2" stroke-width="2.6" stroke-linecap="butt"/>
<line x1="772.7" y1="302.4" x2="772.7" y2="384.1" stroke="#2545d2" stroke-width="2.6" stroke-linecap="butt"/>
<line x1="800.8" y1="296.3" x2="800.8" y2="378.1" stroke="#2545d2" stroke-width="2.6" stroke-linecap="butt"/>
<line x1="811.1" y1="294.1" x2="811.1" y2="375.9" stroke="#2545d2" stroke-width="2.6" stroke-linecap="butt"/>
<line x1="733.4" y1="331.4" x2="827.0" y2="311.1" stroke="#2545d2" stroke-width="2.6" stroke-linecap="butt"/>
<line x1="733.4" y1="351.8" x2="827.0" y2="331.6" stroke="#2545d2" stroke-width="2.6" stroke-linecap="butt"/>
<line x1="733.4" y1="372.1" x2="827.0" y2="352.0" stroke="#2545d2" stroke-width="2.6" stroke-linecap="butt"/>
<polygon points="733.4,311.0 827.0,290.6 827.0,372.5 733.4,392.5" fill="none" stroke="#2545d2" stroke-width="2.6" stroke-linejoin="miter"/>
<line x1="712.6" y1="294.8" x2="712.6" y2="378.0" stroke="#2545d2" stroke-width="4.4" stroke-linecap="butt"/>
<line x1="827.0" y1="289.4" x2="827.0" y2="374.0" stroke="#2545d2" stroke-width="3.2" stroke-linecap="butt"/>
<line x1="733.4" y1="309.2" x2="733.4" y2="394.5" stroke="#2545d2" stroke-width="4.6" stroke-linecap="butt"/>
<polyline points="741.4,384.0 741.4,322.0 743.5,318.5 751.0,317.0 754.2,320.0 754.2,379.0" fill="none" stroke="#4b4f56" stroke-width="5.2" stroke-linecap="round" stroke-linejoin="round"/>
<polyline points="740.9,383.7 740.9,321.7 743.0,318.2 750.5,316.7 753.7,319.7 753.7,378.7" fill="none" stroke="#8b8f97" stroke-width="1.4560000000000002" stroke-linecap="round" stroke-linejoin="round"/>
<polyline points="754.2,377.0 756.5,382.5 775.0,379.0 777.6,373.0" fill="none" stroke="#4b4f56" stroke-width="5.2" stroke-linecap="round" stroke-linejoin="round"/>
<polyline points="753.7,376.7 756.0,382.2 774.5,378.7 777.1,372.7" fill="none" stroke="#8b8f97" stroke-width="1.4560000000000002" stroke-linecap="round" stroke-linejoin="round"/>
<polyline points="767.1,303.0 767.1,380.5" fill="none" stroke="#44484e" stroke-width="6.0" stroke-linecap="round" stroke-linejoin="round"/>
<polyline points="766.6,302.7 766.6,380.2" fill="none" stroke="#82868e" stroke-width="1.6800000000000002" stroke-linecap="round" stroke-linejoin="round"/>
<line x1="762.5" y1="301.2" x2="772.0" y2="299.4" stroke="#3c4046" stroke-width="3.2" stroke-linecap="butt"/>
<polyline points="777.6,375.0 777.6,310.0 780.5,306.0 789.0,304.4" fill="none" stroke="#4b4f56" stroke-width="5.2" stroke-linecap="round" stroke-linejoin="round"/>
<polyline points="777.1,374.7 777.1,309.7 780.0,305.7 788.5,304.1" fill="none" stroke="#8b8f97" stroke-width="1.4560000000000002" stroke-linecap="round" stroke-linejoin="round"/>
<line x1="776.5" y1="305.5" x2="789.0" y2="303.0" stroke="#3c4046" stroke-width="2.8" stroke-linecap="butt"/>
<rect x="751" y="336" width="6.4" height="3.4" rx="1" fill="#3a3e45"/>
<rect x="774.4" y="330" width="6.4" height="3.4" rx="1" fill="#3a3e45"/>
<rect x="751" y="352" width="6.4" height="3.4" rx="1" fill="#3a3e45"/>
<rect x="774.4" y="346" width="6.4" height="3.4" rx="1" fill="#3a3e45"/>
<rect x="751" y="366" width="6.4" height="3.4" rx="1" fill="#3a3e45"/>
<rect x="774.4" y="360" width="6.4" height="3.4" rx="1" fill="#3a3e45"/>
<polyline points="796.0,293.0 796.0,366.0 799.5,372.0 808.5,370.5 812.3,364.5 812.3,306.0 814.5,300.0 819.5,298.6 823.8,303.0 823.8,357.0 821.6,363.5 819.4,357.0 819.4,318.0" fill="none" stroke="#a0a4ab" stroke-width="5.2" stroke-linecap="round" stroke-linejoin="round"/>
<polyline points="795.5,292.7 795.5,365.7 799.0,371.7 808.0,370.2 811.8,364.2 811.8,305.7 814.0,299.7 819.0,298.3 823.3,302.7 823.3,356.7 821.1,363.2 818.9,356.7 818.9,317.7" fill="none" stroke="#e2e4e8" stroke-width="1.4560000000000002" stroke-linecap="round" stroke-linejoin="round"/>
<line x1="792.2" y1="291.8" x2="800.0" y2="290.3" stroke="#b4b7bd" stroke-width="2.8" stroke-linecap="butt"/>
<polyline points="806.6,313.0 806.6,360.0" fill="none" stroke="#3c4047" stroke-width="2.6" stroke-linecap="round" stroke-linejoin="round"/>
<rect x="803.6" y="319" width="6" height="3.4" fill="#2e3238"/>
<rect x="803.6" y="328" width="6" height="3.4" fill="#2e3238"/>
<rect x="803.6" y="337" width="6" height="3.4" fill="#2e3238"/>
<rect x="803.6" y="346" width="6" height="3.4" fill="#2e3238"/>
<rect x="803.6" y="354" width="6" height="3.4" fill="#2e3238"/>
<rect x="806" y="353.5" width="7" height="4.4" rx="1.5" fill="#44484e"/>
<circle cx="809.3" cy="317" r="1.3" fill="#e02020"/>
<rect x="821.6" y="322" width="4.4" height="10" rx="1.5" fill="#90949b"/>
<line x1="748.0" y1="302.5" x2="748.0" y2="309.5" stroke="#9a9ea6" stroke-width="1.6" stroke-linecap="butt"/>
<line x1="744.8" y1="303.1" x2="751.4" y2="301.8" stroke="#c5c8ce" stroke-width="1.7" stroke-linecap="butt"/>
<line x1="785.0" y1="288.5" x2="785.0" y2="295.5" stroke="#9a9ea6" stroke-width="1.6" stroke-linecap="butt"/>
<line x1="781.8" y1="289.1" x2="788.4" y2="287.8" stroke="#c5c8ce" stroke-width="1.7" stroke-linecap="butt"/>
<line x1="798.5" y1="285.5" x2="798.5" y2="292.5" stroke="#9a9ea6" stroke-width="1.6" stroke-linecap="butt"/>
<line x1="795.3" y1="286.1" x2="801.9" y2="284.8" stroke="#c5c8ce" stroke-width="1.7" stroke-linecap="butt"/>
<line x1="805.5" y1="283.5" x2="805.5" y2="290.5" stroke="#9a9ea6" stroke-width="1.6" stroke-linecap="butt"/>
<line x1="802.3" y1="284.1" x2="808.9" y2="282.8" stroke="#c5c8ce" stroke-width="1.7" stroke-linecap="butt"/>
<path d="M746.5,340.0 l3.4,-0.8 l-1,3 Z" fill="#2fb8c8"/>
<path d="M789.0,351.0 l3.4,-0.8 l-1,3 Z" fill="#2fb8c8"/>
<path d="M800.5,330.0 l3.4,-0.8 l-1,3 Z" fill="#2fb8c8"/>
<path d="M746.0,368.0 l3.4,-0.8 l-1,3 Z" fill="#2fb8c8"/>
<polygon points="712.6,376.5 733.4,392.5 733.4,395.0 712.6,379.0" fill="#1b33a8"/>
<polygon points="733.4,392.5 827.0,372.5 827.0,375.0 733.4,395.0" fill="#2040c4"/>
<line x1="712.6" y1="376.5" x2="733.4" y2="392.5" stroke="#2545d2" stroke-width="3.2" stroke-linecap="butt"/>
<line x1="733.4" y1="392.5" x2="827.0" y2="372.5" stroke="#2545d2" stroke-width="3.2" stroke-linecap="butt"/>
<!-- heat exchange skid 2 -->
<polygon points="848.4,341.5 955.0,319.5 971.0,333.5 867.3,356.0" fill="#cfd7f3"/>
<line x1="861.2" y1="338.9" x2="879.7" y2="353.3" stroke="#2341c8" stroke-width="3.4" stroke-linecap="butt"/>
<line x1="880.4" y1="334.9" x2="898.4" y2="349.2" stroke="#2341c8" stroke-width="3.4" stroke-linecap="butt"/>
<line x1="901.7" y1="330.5" x2="919.1" y2="344.8" stroke="#2341c8" stroke-width="3.4" stroke-linecap="butt"/>
<line x1="923.0" y1="326.1" x2="939.9" y2="340.2" stroke="#2341c8" stroke-width="3.4" stroke-linecap="butt"/>
<line x1="942.2" y1="322.1" x2="958.6" y2="336.2" stroke="#2341c8" stroke-width="3.4" stroke-linecap="butt"/>
<line x1="848.4" y1="341.5" x2="955.0" y2="319.5" stroke="#2a48cf" stroke-width="2.6" stroke-linecap="butt"/>
<line x1="848.4" y1="341.8" x2="867.3" y2="356.2" stroke="#2341c8" stroke-width="3.6" stroke-linecap="butt"/>
<polygon points="848.4,342.5 867.3,357.0 867.3,360.0 848.4,345.5" fill="#1b33a8"/>
<polygon points="867.3,354.0 971.0,331.5 971.0,337.0 867.3,360.0" fill="#2444d0"/>
<polygon points="860.0,304.0 866.0,301.0 873.6,302.5 873.6,346.0 867.0,348.5 860.0,346.5" fill="#a6a8ac"/>
<polygon points="860.0,304.0 866.0,301.0 866.0,345.0 860.0,346.5" fill="#c4c6ca"/>
<line x1="858.0" y1="311.0" x2="861.0" y2="311.0" stroke="#d0d2d6" stroke-width="1" stroke-linecap="butt"/>
<line x1="858.0" y1="322.0" x2="861.0" y2="322.0" stroke="#d0d2d6" stroke-width="1" stroke-linecap="butt"/>
<line x1="858.0" y1="333.0" x2="861.0" y2="333.0" stroke="#d0d2d6" stroke-width="1" stroke-linecap="butt"/>
<polygon points="877.6,275.0 962.0,255.3 962.0,331.0 877.6,351.5" fill="#c9d3f0" fill-opacity="0.8"/>
<line x1="890.9" y1="271.9" x2="890.9" y2="348.3" stroke="#2545d2" stroke-width="2.8" stroke-linecap="butt"/>
<line x1="918.8" y1="265.4" x2="918.8" y2="341.5" stroke="#2545d2" stroke-width="2.8" stroke-linecap="butt"/>
<line x1="948.5" y1="258.5" x2="948.5" y2="334.3" stroke="#2545d2" stroke-width="2.8" stroke-linecap="butt"/>
<line x1="877.6" y1="295.7" x2="962.0" y2="275.7" stroke="#2545d2" stroke-width="2.8" stroke-linecap="butt"/>
<line x1="877.6" y1="320.9" x2="962.0" y2="300.7" stroke="#2545d2" stroke-width="2.8" stroke-linecap="butt"/>
<polygon points="877.6,275.0 962.0,255.3 962.0,331.0 877.6,351.5" fill="none" stroke="#2545d2" stroke-width="2.8" stroke-linejoin="miter"/>
<line x1="877.6" y1="273.6" x2="877.6" y2="354.0" stroke="#2545d2" stroke-width="3.8" stroke-linecap="butt"/>
<line x1="962.0" y1="254.0" x2="962.0" y2="333.0" stroke="#2545d2" stroke-width="3.4" stroke-linecap="butt"/>
<line x1="962.0" y1="255.3" x2="970.0" y2="261.0" stroke="#2545d2" stroke-width="2.8" stroke-linecap="butt"/>
<line x1="962.0" y1="281.0" x2="969.5" y2="286.3" stroke="#2545d2" stroke-width="2.4" stroke-linecap="butt"/>
<line x1="962.0" y1="306.0" x2="969.5" y2="311.3" stroke="#2545d2" stroke-width="2.4" stroke-linecap="butt"/>
<polyline points="950.0,246.0 950.0,313.0" fill="none" stroke="#93979e" stroke-width="7.6" stroke-linecap="round" stroke-linejoin="round"/>
<polyline points="949.5,245.7 949.5,312.7" fill="none" stroke="#d2d4d9" stroke-width="2.128" stroke-linecap="round" stroke-linejoin="round"/>
<ellipse cx="950" cy="245.5" rx="3.8" ry="1.6" fill="#c9ccd1"/>
<polyline points="907.5,268.0 907.5,332.0" fill="none" stroke="#8d9198" stroke-width="4.2" stroke-linecap="round" stroke-linejoin="round"/>
<polyline points="907.0,267.7 907.0,331.7" fill="none" stroke="#cfd1d6" stroke-width="1.1760000000000002" stroke-linecap="round" stroke-linejoin="round"/>
<polyline points="881.0,304.0 905.0,298.5 940.0,290.5 953.0,296.5" fill="none" stroke="#8b8f96" stroke-width="5.0" stroke-linecap="round" stroke-linejoin="round"/>
<polyline points="880.5,303.7 904.5,298.2 939.5,290.2 952.5,296.2" fill="none" stroke="#cdd0d5" stroke-width="1.4000000000000001" stroke-linecap="round" stroke-linejoin="round"/>
<polyline points="884.0,312.5 948.0,298.5" fill="none" stroke="#a0a4ab" stroke-width="4.2" stroke-linecap="round" stroke-linejoin="round"/>
<polyline points="883.5,312.2 947.5,298.2" fill="none" stroke="#dfe1e5" stroke-width="1.1760000000000002" stroke-linecap="round" stroke-linejoin="round"/>
<polyline points="893.0,293.0 925.0,286.0" fill="none" stroke="#7d8188" stroke-width="3.4" stroke-linecap="round" stroke-linejoin="round"/>
<polyline points="892.5,292.7 924.5,285.7" fill="none" stroke="#babdc3" stroke-width="0.9520000000000001" stroke-linecap="round" stroke-linejoin="round"/>
<polyline points="888.0,328.5 915.0,322.5 945.0,315.5" fill="none" stroke="#8f939a" stroke-width="5.2" stroke-linecap="round" stroke-linejoin="round"/>
<polyline points="887.5,328.2 914.5,322.2 944.5,315.2" fill="none" stroke="#d3d5da" stroke-width="1.4560000000000002" stroke-linecap="round" stroke-linejoin="round"/>
<polyline points="884.0,338.5 946.0,324.5" fill="none" stroke="#a4a8af" stroke-width="3.8" stroke-linecap="round" stroke-linejoin="round"/>
<polyline points="883.5,338.2 945.5,324.2" fill="none" stroke="#e0e2e6" stroke-width="1.064" stroke-linecap="round" stroke-linejoin="round"/>
<polyline points="889.0,347.0 930.0,338.0" fill="none" stroke="#9a9ea5" stroke-width="3.0" stroke-linecap="round" stroke-linejoin="round"/>
<polyline points="934.0,287.0 934.0,307.0" fill="none" stroke="#7d8188" stroke-width="4.8" stroke-linecap="round" stroke-linejoin="round"/>
<polyline points="933.5,286.7 933.5,306.7" fill="none" stroke="#c0c3c8" stroke-width="1.344" stroke-linecap="round" stroke-linejoin="round"/>
<polyline points="921.0,300.0 921.0,337.0" fill="none" stroke="#7d8188" stroke-width="2.8" stroke-linecap="round" stroke-linejoin="round"/>
<polyline points="896.0,304.0 896.0,345.0" fill="none" stroke="#8d9198" stroke-width="2.6" stroke-linecap="round" stroke-linejoin="round"/>
<polyline points="892.0,284.0 904.0,281.0 907.0,285.0" fill="none" stroke="#93979e" stroke-width="3.4" stroke-linecap="round" stroke-linejoin="round"/>
<polyline points="891.5,283.7 903.5,280.7 906.5,284.7" fill="none" stroke="#d5d7dc" stroke-width="0.9520000000000001" stroke-linecap="round" stroke-linejoin="round"/>
<polyline points="963.5,290.0 963.5,327.0" fill="none" stroke="#a2a6ad" stroke-width="2.4" stroke-linecap="round" stroke-linejoin="round"/>
<ellipse cx="965.5" cy="296" rx="3.2" ry="3.8" fill="#d4d6da"/><ellipse cx="961" cy="300" rx="2.6" ry="3" fill="#c4c6ca"/>
<ellipse cx="900" cy="300" rx="2.8" ry="2.4" fill="#b9bcc2" stroke="#7d8188" stroke-width="0.6"/>
<ellipse cx="913" cy="311" rx="2.8" ry="2.4" fill="#b9bcc2" stroke="#7d8188" stroke-width="0.6"/>
<ellipse cx="928" cy="318" rx="2.8" ry="2.4" fill="#b9bcc2" stroke="#7d8188" stroke-width="0.6"/>
<ellipse cx="905" cy="327" rx="2.8" ry="2.4" fill="#b9bcc2" stroke="#7d8188" stroke-width="0.6"/>
<ellipse cx="938" cy="322" rx="2.8" ry="2.4" fill="#b9bcc2" stroke="#7d8188" stroke-width="0.6"/>
<ellipse cx="899" cy="339" rx="2.8" ry="2.4" fill="#b9bcc2" stroke="#7d8188" stroke-width="0.6"/>
<ellipse cx="915" cy="343" rx="2.8" ry="2.4" fill="#b9bcc2" stroke="#7d8188" stroke-width="0.6"/>
<ellipse cx="935" cy="334" rx="2.8" ry="2.4" fill="#b9bcc2" stroke="#7d8188" stroke-width="0.6"/>
<path d="M891.0,273.0 l4,-1 l-1.2,3.4 Z" fill="#2fb8c8"/>
<path d="M908.0,263.0 l4,-1 l-1.2,3.4 Z" fill="#2fb8c8"/>
<path d="M920.5,262.0 l4,-1 l-1.2,3.4 Z" fill="#2fb8c8"/>
<path d="M889.0,294.5 l4,-1 l-1.2,3.4 Z" fill="#2fb8c8"/>
<path d="M881.0,314.5 l4,-1 l-1.2,3.4 Z" fill="#2fb8c8"/>
<path d="M920.0,316.5 l4,-1 l-1.2,3.4 Z" fill="#2fb8c8"/>
<path d="M951.5,306.0 l4,-1 l-1.2,3.4 Z" fill="#2fb8c8"/>
<path d="M892.0,343.5 l4,-1 l-1.2,3.4 Z" fill="#2fb8c8"/>
<path d="M920.0,338.0 l4,-1 l-1.2,3.4 Z" fill="#2fb8c8"/>
<path d="M953.5,334.0 l4,-1 l-1.2,3.4 Z" fill="#2fb8c8"/>
<path d="M964.0,284.5 l4,-1 l-1.2,3.4 Z" fill="#2fb8c8"/>
<path d="M965.0,258.0 l4,-1 l-1.2,3.4 Z" fill="#2fb8c8"/>
<!-- degassing membrane system -->
<polygon points="1039.7,303.9 1245.8,259.0 1284.4,289.7 1077.5,335.6" fill="#ccd5f2" fill-opacity="0.9"/>
<polygon points="1039.7,191.4 1245.8,146.4 1245.8,259.0 1039.7,303.9" fill="#dde2f6" fill-opacity="0.9"/>
<polygon points="1245.8,146.4 1284.0,175.0 1284.4,289.7 1245.8,259.0" fill="#dde2f6" fill-opacity="0.9"/>
<line x1="1108.9" y1="176.3" x2="1108.9" y2="288.8" stroke="#4a66dc" stroke-width="2.2" stroke-linecap="butt"/>
<line x1="1174.9" y1="161.9" x2="1174.9" y2="274.4" stroke="#4a66dc" stroke-width="2.2" stroke-linecap="butt"/>
<line x1="1217.4" y1="152.6" x2="1217.4" y2="265.2" stroke="#4a66dc" stroke-width="2.2" stroke-linecap="butt"/>
<polygon points="1039.7,191.4 1245.8,146.4 1245.8,259.0 1039.7,303.9" fill="none" stroke="#4a66dc" stroke-width="2.2" stroke-linejoin="miter"/>
<line x1="1245.8" y1="146.4" x2="1245.8" y2="259.0" stroke="#2b49cc" stroke-width="3" stroke-linecap="butt"/>
<line x1="1039.7" y1="303.9" x2="1077.5" y2="335.6" stroke="#1f3cc4" stroke-width="5.2" stroke-linecap="butt"/>
<line x1="1069.4" y1="297.4" x2="1107.3" y2="329.0" stroke="#1f3cc4" stroke-width="5.2" stroke-linecap="butt"/>
<line x1="1108.9" y1="288.8" x2="1147.0" y2="320.2" stroke="#1f3cc4" stroke-width="5.2" stroke-linecap="butt"/>
<line x1="1174.9" y1="274.4" x2="1213.2" y2="305.5" stroke="#1f3cc4" stroke-width="5.2" stroke-linecap="butt"/>
<line x1="1217.4" y1="265.2" x2="1255.8" y2="296.0" stroke="#1f3cc4" stroke-width="5.2" stroke-linecap="butt"/>
<line x1="1245.8" y1="259.0" x2="1284.4" y2="289.7" stroke="#1f3cc4" stroke-width="5.2" stroke-linecap="butt"/>
<line x1="1069.4" y1="223.2" x2="1107.3" y2="252.2" stroke="#2341c8" stroke-width="3.2" stroke-linecap="butt"/>
<line x1="1108.9" y1="214.5" x2="1146.9" y2="243.6" stroke="#2341c8" stroke-width="3.2" stroke-linecap="butt"/>
<line x1="1174.9" y1="200.2" x2="1213.1" y2="229.4" stroke="#2341c8" stroke-width="3.2" stroke-linecap="butt"/>
<line x1="1217.4" y1="190.9" x2="1255.6" y2="220.2" stroke="#2341c8" stroke-width="3.2" stroke-linecap="butt"/>
<line x1="1069.4" y1="252.4" x2="1107.3" y2="282.5" stroke="#2341c8" stroke-width="3.2" stroke-linecap="butt"/>
<line x1="1108.9" y1="243.8" x2="1147.0" y2="273.8" stroke="#2341c8" stroke-width="3.2" stroke-linecap="butt"/>
<line x1="1174.9" y1="229.4" x2="1213.1" y2="259.3" stroke="#2341c8" stroke-width="3.2" stroke-linecap="butt"/>
<line x1="1217.4" y1="220.2" x2="1255.7" y2="250.0" stroke="#2341c8" stroke-width="3.2" stroke-linecap="butt"/>
<rect x="1223.2" y="190.0" width="12.5" height="57.0" rx="3" fill="url(#mem)"/>
<path d="M1223.2,195.0 q0,-6 6.2,-6 q6.2,0 6.2,6 v9 q-6.2,3 -12.5,0 Z" fill="#222428"/>
<path d="M1223.2,234.0 q6.2,3 12.5,0 v9 q0,5 -6.2,5 q-6.2,0 -6.2,-5 Z" fill="#222428"/>
<rect x="1226.9" y="191.0" width="1.6" height="54.0" fill="#ffffff" fill-opacity="0.25"/>
<rect x="1237.1" y="186.0" width="13.0" height="69.0" rx="3" fill="url(#mem)"/>
<path d="M1237.1,191.0 q0,-6 6.5,-6 q6.5,0 6.5,6 v9 q-6.5,3 -13.0,0 Z" fill="#222428"/>
<path d="M1237.1,242.0 q6.5,3 13.0,0 v9 q0,5 -6.5,5 q-6.5,0 -6.5,-5 Z" fill="#222428"/>
<rect x="1241.0" y="187.0" width="1.6" height="66.0" fill="#ffffff" fill-opacity="0.25"/>
<rect x="1249.8" y="188.5" width="14.5" height="74.5" rx="3" fill="url(#mem)"/>
<path d="M1249.8,193.5 q0,-6 7.2,-6 q7.2,0 7.2,6 v9 q-7.2,3 -14.5,0 Z" fill="#222428"/>
<path d="M1249.8,250.0 q7.2,3 14.5,0 v9 q0,5 -7.2,5 q-7.2,0 -7.2,-5 Z" fill="#222428"/>
<rect x="1254.1" y="189.5" width="1.6" height="71.5" fill="#ffffff" fill-opacity="0.25"/>
<rect x="1165.5" y="195.6" width="12.5" height="63.9" rx="3" fill="url(#mem)"/>
<path d="M1165.5,200.6 q0,-6 6.2,-6 q6.2,0 6.2,6 v9 q-6.2,3 -12.5,0 Z" fill="#222428"/>
<path d="M1165.5,246.5 q6.2,3 12.5,0 v9 q0,5 -6.2,5 q-6.2,0 -6.2,-5 Z" fill="#222428"/>
<rect x="1169.2" y="196.6" width="1.6" height="60.9" fill="#ffffff" fill-opacity="0.25"/>
<rect x="1176.8" y="199.0" width="13.5" height="73.0" rx="3" fill="url(#mem)"/>
<path d="M1176.8,204.0 q0,-6 6.8,-6 q6.8,0 6.8,6 v9 q-6.8,3 -13.5,0 Z" fill="#222428"/>
<path d="M1176.8,259.0 q6.8,3 13.5,0 v9 q0,5 -6.8,5 q-6.8,0 -6.8,-5 Z" fill="#222428"/>
<rect x="1180.8" y="200.0" width="1.6" height="70.0" fill="#ffffff" fill-opacity="0.25"/>
<rect x="1189.0" y="204.5" width="15.0" height="72.5" rx="3" fill="url(#mem)"/>
<path d="M1189.0,209.5 q0,-6 7.5,-6 q7.5,0 7.5,6 v9 q-7.5,3 -15.0,0 Z" fill="#222428"/>
<path d="M1189.0,264.0 q7.5,3 15.0,0 v9 q0,5 -7.5,5 q-7.5,0 -7.5,-5 Z" fill="#222428"/>
<rect x="1193.5" y="205.5" width="1.6" height="69.5" fill="#ffffff" fill-opacity="0.25"/>
<rect x="1113.8" y="213.0" width="12.5" height="73.0" rx="3" fill="url(#mem)"/>
<path d="M1113.8,218.0 q0,-6 6.2,-6 q6.2,0 6.2,6 v9 q-6.2,3 -12.5,0 Z" fill="#222428"/>
<path d="M1113.8,273.0 q6.2,3 12.5,0 v9 q0,5 -6.2,5 q-6.2,0 -6.2,-5 Z" fill="#222428"/>
<rect x="1117.5" y="214.0" width="1.6" height="70.0" fill="#ffffff" fill-opacity="0.25"/>
<rect x="1127.0" y="211.0" width="13.0" height="78.0" rx="3" fill="url(#mem)"/>
<path d="M1127.0,216.0 q0,-6 6.5,-6 q6.5,0 6.5,6 v9 q-6.5,3 -13.0,0 Z" fill="#222428"/>
<path d="M1127.0,276.0 q6.5,3 13.0,0 v9 q0,5 -6.5,5 q-6.5,0 -6.5,-5 Z" fill="#222428"/>
<rect x="1130.9" y="212.0" width="1.6" height="75.0" fill="#ffffff" fill-opacity="0.25"/>
<rect x="1139.0" y="213.0" width="14.0" height="77.0" rx="3" fill="url(#mem)"/>
<path d="M1139.0,218.0 q0,-6 7.0,-6 q7.0,0 7.0,6 v9 q-7.0,3 -14.0,0 Z" fill="#222428"/>
<path d="M1139.0,277.0 q7.0,3 14.0,0 v9 q0,5 -7.0,5 q-7.0,0 -7.0,-5 Z" fill="#222428"/>
<rect x="1143.2" y="214.0" width="1.6" height="74.0" fill="#ffffff" fill-opacity="0.25"/>
<rect x="1057.2" y="210.0" width="12.5" height="80.0" rx="3" fill="url(#mem)"/>
<path d="M1057.2,215.0 q0,-6 6.2,-6 q6.2,0 6.2,6 v9 q-6.2,3 -12.5,0 Z" fill="#222428"/>
<path d="M1057.2,277.0 q6.2,3 12.5,0 v9 q0,5 -6.2,5 q-6.2,0 -6.2,-5 Z" fill="#222428"/>
<rect x="1061.0" y="211.0" width="1.6" height="77.0" fill="#ffffff" fill-opacity="0.25"/>
<rect x="1069.5" y="217.0" width="13.0" height="80.0" rx="3" fill="url(#mem)"/>
<path d="M1069.5,222.0 q0,-6 6.5,-6 q6.5,0 6.5,6 v9 q-6.5,3 -13.0,0 Z" fill="#222428"/>
<path d="M1069.5,284.0 q6.5,3 13.0,0 v9 q0,5 -6.5,5 q-6.5,0 -6.5,-5 Z" fill="#222428"/>
<rect x="1073.4" y="218.0" width="1.6" height="77.0" fill="#ffffff" fill-opacity="0.25"/>
<rect x="1080.8" y="224.0" width="15.0" height="78.0" rx="3" fill="url(#mem)"/>
<path d="M1080.8,229.0 q0,-6 7.5,-6 q7.5,0 7.5,6 v9 q-7.5,3 -15.0,0 Z" fill="#222428"/>
<path d="M1080.8,289.0 q7.5,3 15.0,0 v9 q0,5 -7.5,5 q-7.5,0 -7.5,-5 Z" fill="#222428"/>
<rect x="1085.3" y="225.0" width="1.6" height="75.0" fill="#ffffff" fill-opacity="0.25"/>
<polyline points="1064.0,213.0 1140.0,197.0 1238.0,176.0" fill="none" stroke="#53575e" stroke-width="6.2" stroke-linecap="round" stroke-linejoin="round"/>
<polyline points="1063.5,212.7 1139.5,196.7 1237.5,175.7" fill="none" stroke="#9a9da3" stroke-width="1.7360000000000002" stroke-linecap="round" stroke-linejoin="round"/>
<polyline points="1082.0,230.0 1150.0,215.5 1262.0,191.5" fill="none" stroke="#7a7e85" stroke-width="3.6" stroke-linecap="round" stroke-linejoin="round"/>
<polyline points="1081.5,229.7 1149.5,215.2 1261.5,191.2" fill="none" stroke="#c0c3c8" stroke-width="1.0080000000000002" stroke-linecap="round" stroke-linejoin="round"/>
<polyline points="1084.0,306.0 1160.0,290.0 1236.0,273.5" fill="none" stroke="#53575e" stroke-width="6.2" stroke-linecap="round" stroke-linejoin="round"/>
<polyline points="1083.5,305.7 1159.5,289.7 1235.5,273.2" fill="none" stroke="#9a9da3" stroke-width="1.7360000000000002" stroke-linecap="round" stroke-linejoin="round"/>
<polyline points="1080.0,316.0 1150.0,301.0 1262.0,277.0" fill="none" stroke="#7a7e85" stroke-width="3.4" stroke-linecap="round" stroke-linejoin="round"/>
<polyline points="1079.5,315.7 1149.5,300.7 1261.5,276.7" fill="none" stroke="#c0c3c8" stroke-width="0.9520000000000001" stroke-linecap="round" stroke-linejoin="round"/>
<polyline points="1100.0,205.0 1118.0,221.0 1118.0,228.0" fill="none" stroke="#7a7e85" stroke-width="3.6" stroke-linecap="round" stroke-linejoin="round"/>
<polyline points="1099.5,204.7 1117.5,220.7 1117.5,227.7" fill="none" stroke="#c0c3c8" stroke-width="1.0080000000000002" stroke-linecap="round" stroke-linejoin="round"/>
<polyline points="1196.0,184.0 1214.0,199.0 1214.0,206.0" fill="none" stroke="#7a7e85" stroke-width="3.6" stroke-linecap="round" stroke-linejoin="round"/>
<polyline points="1195.5,183.7 1213.5,198.7 1213.5,205.7" fill="none" stroke="#c0c3c8" stroke-width="1.0080000000000002" stroke-linecap="round" stroke-linejoin="round"/>
<polyline points="1104.0,296.0 1122.0,310.0" fill="none" stroke="#7a7e85" stroke-width="4" stroke-linecap="round" stroke-linejoin="round"/>
<polyline points="1103.5,295.7 1121.5,309.7" fill="none" stroke="#c0c3c8" stroke-width="1.12" stroke-linecap="round" stroke-linejoin="round"/>
<polyline points="1200.0,273.0 1226.0,291.0" fill="none" stroke="#7a7e85" stroke-width="4" stroke-linecap="round" stroke-linejoin="round"/>
<polyline points="1199.5,272.7 1225.5,290.7" fill="none" stroke="#c0c3c8" stroke-width="1.12" stroke-linecap="round" stroke-linejoin="round"/>
<ellipse cx="1123" cy="227" rx="5" ry="5.4" fill="#b9bcc2" stroke="#7d8188" stroke-width="0.8"/>
<ellipse cx="1230" cy="201" rx="5" ry="5.4" fill="#b9bcc2" stroke="#7d8188" stroke-width="0.8"/>
<ellipse cx="1122" cy="298" rx="5" ry="5.4" fill="#b9bcc2" stroke="#7d8188" stroke-width="0.8"/>
<ellipse cx="1229" cy="274" rx="5" ry="5.4" fill="#b9bcc2" stroke="#7d8188" stroke-width="0.8"/>
<ellipse cx="1094" cy="198" rx="5" ry="5.4" fill="#b9bcc2" stroke="#7d8188" stroke-width="0.8"/>
<ellipse cx="1196" cy="174" rx="5" ry="5.4" fill="#b9bcc2" stroke="#7d8188" stroke-width="0.8"/>
<polyline points="1124.0,196.0 1124.0,184.0 1130.0,182.5 1130.0,194.0" fill="none" stroke="#8a8e95" stroke-width="1.8" stroke-linecap="round" stroke-linejoin="round"/>
<polyline points="1186.0,181.0 1186.0,171.0 1192.0,169.5 1192.0,179.0" fill="none" stroke="#8a8e95" stroke-width="1.8" stroke-linecap="round" stroke-linejoin="round"/>
<polyline points="1085.0,207.0 1085.0,199.0 1091.0,197.5" fill="none" stroke="#8a8e95" stroke-width="1.8" stroke-linecap="round" stroke-linejoin="round"/>
<line x1="1069.4" y1="184.9" x2="1107.2" y2="212.7" stroke="#1a30b4" stroke-width="3.4" stroke-linecap="butt"/>
<line x1="1108.9" y1="176.3" x2="1146.9" y2="204.2" stroke="#1a30b4" stroke-width="3.4" stroke-linecap="butt"/>
<line x1="1174.9" y1="161.9" x2="1213.0" y2="190.1" stroke="#1a30b4" stroke-width="3.4" stroke-linecap="butt"/>
<line x1="1217.4" y1="152.6" x2="1255.5" y2="181.1" stroke="#1a30b4" stroke-width="3.4" stroke-linecap="butt"/>
<polygon points="1039.7,191.4 1077.5,219.0 1077.5,335.6 1039.7,303.9" fill="#d4dbf4" fill-opacity="0.22"/>
<polygon points="1077.5,219.0 1284.0,175.0 1284.4,289.7 1077.5,335.6" fill="#d4dbf4" fill-opacity="0.15"/>
<polygon points="1039.7,191.4 1077.5,219.0 1077.5,335.6 1039.7,303.9" fill="none" stroke="#2545d2" stroke-width="4.2" stroke-linejoin="miter"/>
<line x1="1107.2" y1="212.7" x2="1107.3" y2="329.0" stroke="#2545d2" stroke-width="4.2" stroke-linecap="butt"/>
<line x1="1146.9" y1="204.2" x2="1147.0" y2="320.2" stroke="#2545d2" stroke-width="4.2" stroke-linecap="butt"/>
<line x1="1213.0" y1="190.1" x2="1213.2" y2="305.5" stroke="#2545d2" stroke-width="4.2" stroke-linecap="butt"/>
<line x1="1255.5" y1="181.1" x2="1255.8" y2="296.0" stroke="#2545d2" stroke-width="4.2" stroke-linecap="butt"/>
<line x1="1077.5" y1="258.6" x2="1284.1" y2="214.0" stroke="#2545d2" stroke-width="4.2" stroke-linecap="butt"/>
<line x1="1077.5" y1="289.0" x2="1284.2" y2="243.8" stroke="#2545d2" stroke-width="4.2" stroke-linecap="butt"/>
<polygon points="1077.5,219.0 1284.0,175.0 1284.4,289.7 1077.5,335.6" fill="none" stroke="#2545d2" stroke-width="4.2" stroke-linejoin="miter"/>
<line x1="1039.7" y1="191.4" x2="1245.8" y2="146.4" stroke="#1a30b4" stroke-width="3.4" stroke-linecap="butt"/>
<line x1="1245.8" y1="146.4" x2="1284.0" y2="175.0" stroke="#1a30b4" stroke-width="3.4" stroke-linecap="butt"/>
<line x1="1039.7" y1="191.4" x2="1077.5" y2="219.0" stroke="#1a30b4" stroke-width="4.0" stroke-linecap="butt"/>
<line x1="1077.5" y1="217.5" x2="1077.5" y2="337.6" stroke="#2545d2" stroke-width="4.6" stroke-linecap="butt"/>
<line x1="1284.0" y1="174.0" x2="1284.4" y2="291.7" stroke="#2545d2" stroke-width="4.4" stroke-linecap="butt"/>
<line x1="1039.7" y1="190.4" x2="1039.7" y2="305.9" stroke="#2545d2" stroke-width="4.2" stroke-linecap="butt"/>
<polygon points="1037.7,296.9 1075.5,328.1 1075.5,337.4 1037.7,305.7" fill="#1d37b4"/>
<polygon points="1075.5,328.1 1286.6,282.2 1286.6,291.5 1075.5,337.4" fill="#2444d0"/>
</svg>
</body></html>
